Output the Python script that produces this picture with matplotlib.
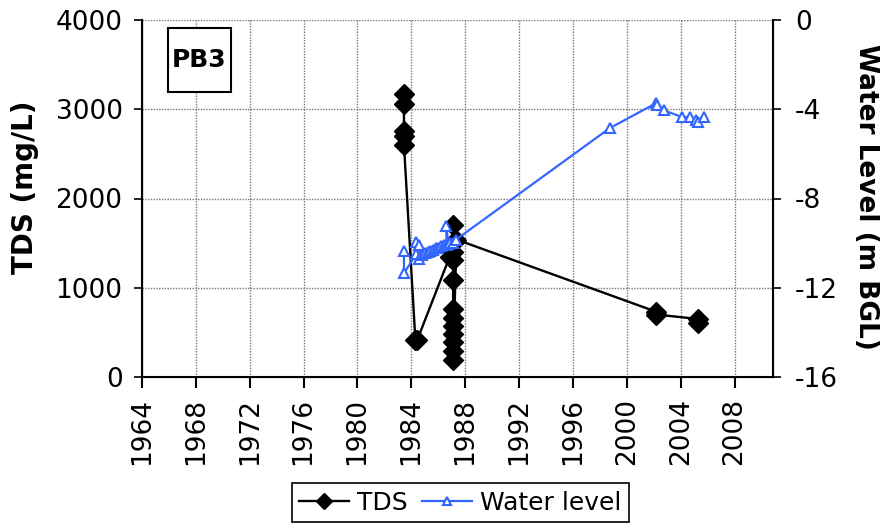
import numpy as np
import matplotlib
matplotlib.use('Agg')
import matplotlib.pyplot as plt
from matplotlib.patches import Rectangle

plt.rcParams['axes.unicode_minus'] = False

# TDS samples (decimal year, mg/L)
tds_year = [1983.45, 1983.45, 1983.45, 1983.45, 1983.45,
            1984.3, 1984.45, 1986.85,
            1987.1, 1987.1, 1987.1, 1987.1, 1987.1, 1987.1,
            1987.1, 1987.1, 1987.1, 1987.1, 1987.1, 1987.1,
            1987.35, 2002.2, 2002.2, 2005.25, 2005.25]
tds_val = [3170, 3060, 2760, 2700, 2600,
           410, 420, 1350,
           1700, 1500, 1400, 1310, 1090, 760,
           660, 570, 480, 390, 290, 190,
           1540, 730, 700, 650, 610]

# water level readings (decimal year, m BGL)
wl_year = [1983.45, 1983.45, 1984.35, 1984.35, 1984.6, 1984.6,
           1984.8, 1985.0, 1985.2, 1985.4, 1985.6, 1985.8,
           1986.0, 1986.2, 1986.4, 1986.6, 1986.6, 1986.75,
           1986.9, 1987.1, 1987.3,
           1998.72, 2002.19, 2002.25, 2002.75, 2004.09, 2004.66,
           2005.16, 2005.25, 2005.72]
wl_val = [-10.35, -11.35, -10.5, -9.95, -10.1, -10.7,
          -10.55, -10.45, -10.4, -10.35, -10.3, -10.2,
          -10.2, -10.15, -10.1, -10.1, -9.25, -10.05,
          -10.0, -10.0, -9.85,
          -4.85, -3.72, -3.8, -4.05, -4.35, -4.35,
          -4.47, -4.55, -4.35]

year_ticks = list(range(1964, 2009, 4))
year_labels = [str(y) for y in year_ticks]
tds_ticks = [0, 1000, 2000, 3000, 4000]
wl_ticks = [-16, -12, -8, -4, 0]

blue = '#3366ff'

fig = plt.figure(figsize=(8.84, 5.26), dpi=100)
ax = fig.add_axes([142/884, 1-377/526, 631/884, 357/526])
ax2 = ax.twinx()

ax.plot(tds_year, tds_val, color='black', lw=1.7, marker='D', ms=10,
        mfc='black', mec='black', label='TDS', zorder=3)
ax2.plot(wl_year, wl_val, color=blue, lw=1.6, marker='^', ms=7,
         mfc='white', mec=blue, mew=1.5, label='Water level')

ax.set_xlim(1964, 2010.85)
ax.set_ylim(0, 4000)
ax2.set_ylim(-16, 0)

ax.set_xticks(year_ticks)
ax.set_xticklabels(year_labels, rotation=90)
ax.set_yticks(tds_ticks)
ax2.set_yticks(wl_ticks)

ax.grid(True, color='#777777', ls=(0, (1, 1)), lw=1.0)
ax.set_axisbelow(True)
ax.spines['top'].set_visible(False)
ax2.spines['top'].set_visible(False)
for s in ['left', 'bottom']:
    ax.spines[s].set_linewidth(1.5)
ax2.spines['right'].set_linewidth(1.5)

ax.tick_params(axis='x', direction='out', length=8, width=1.5, pad=7, labelsize=19)
ax.tick_params(axis='y', direction='out', length=6, width=1.2, pad=8, labelsize=19)
ax2.tick_params(axis='y', direction='out', length=6, width=1.2, pad=10, labelsize=19)

# axis titles
fig.text(25/884, 1-187/526, 'TDS (mg/L)', rotation=90, ha='center', va='center',
         fontsize=20, fontweight='bold')
fig.text(866/884, 1-197/526, 'Water Level (m BGL)', rotation=270, ha='center',
         va='center', fontsize=19, fontweight='bold')

# site tag
ax.add_patch(Rectangle((0.0412, 0.798), 0.0998, 0.18, transform=ax.transAxes,
                       facecolor='white', edgecolor='black', lw=1.5, zorder=4))
ax.text(0.0912, 0.888, 'PB3', transform=ax.transAxes, ha='center', va='center',
        fontsize=18, fontweight='bold', zorder=5)

h1, l1 = ax.get_legend_handles_labels()
h2, l2 = ax2.get_legend_handles_labels()
leg = fig.legend(h1 + h2, l1 + l2, loc='upper center', bbox_to_anchor=(460/884, 1-483/526),
                 ncol=2, frameon=True, fancybox=False, edgecolor='black', framealpha=1,
                 borderaxespad=0, fontsize=18, handlelength=2.0, columnspacing=0.6,
                 handletextpad=0.3, borderpad=0.3, markerscale=0.8)
leg.get_frame().set_linewidth(1.2)

fig.savefig('out.png', dpi=100)
